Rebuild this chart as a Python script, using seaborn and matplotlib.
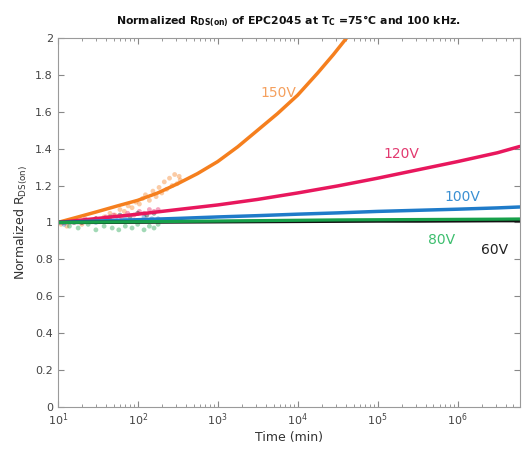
import numpy as np
import pandas as pd
import matplotlib
matplotlib.use('Agg')
import matplotlib.pyplot as plt
import seaborn as sns
from matplotlib.ticker import FormatStrFormatter, LogLocator

sns.set_style("ticks")
plt.rcParams['font.family'] = ['DejaVu Sans']

# fitted curves (time in min, normalized Rds(on))
t150 = [10, 18, 32, 56, 100, 178, 316, 560, 1000, 1780, 3160, 5600, 1e4,
        1.78e4, 2.8e4, 4.1e4, 6.3e4]
fit_150 = [1.0, 1.03, 1.06, 1.09, 1.12, 1.16, 1.21, 1.265, 1.33, 1.41, 1.50,
           1.59, 1.69, 1.81, 1.91, 2.0, 2.11]

fit_t = [10, 31.6, 100, 316, 1000, 3160, 1e4, 3.16e4, 1e5, 3.16e5, 1e6,
         3.16e6, 6e6]
fit_120 = [1.0, 1.022, 1.045, 1.07, 1.095, 1.125, 1.16, 1.198, 1.24, 1.285,
           1.33, 1.378, 1.412]
fit_100 = [1.0, 1.008, 1.015, 1.022, 1.03, 1.037, 1.045, 1.052, 1.06, 1.066,
           1.072, 1.079, 1.084]
fit_80 = [1.0, 1.002, 1.004, 1.006, 1.008, 1.01, 1.012, 1.014, 1.015, 1.016,
          1.017, 1.018, 1.019]
fit_60 = [1.0, 1.001, 1.002, 1.003, 1.004, 1.005, 1.006, 1.007, 1.008, 1.008,
          1.009, 1.01, 1.01]

# raw measurement clouds
raw150_t = [11, 13, 16, 20, 25, 30, 38, 45, 52, 60, 68, 76, 85, 95, 105, 115,
            125, 140, 155, 170, 185, 200, 215, 230, 250, 270, 290, 310, 330, 340]
raw150_v = [0.99, 0.98, 1.00, 0.99, 1.01, 1.02, 1.03, 1.05, 1.04, 1.07, 1.06,
            1.09, 1.08, 1.11, 1.10, 1.13, 1.15, 1.12, 1.17, 1.14, 1.19, 1.16,
            1.22, 1.18, 1.24, 1.20, 1.26, 1.21, 1.25, 1.23]
raw120_t = [12, 16, 22, 30, 40, 50, 62, 75, 90, 105, 120, 140, 160, 180]
raw120_v = [1.0, 1.01, 1.02, 1.02, 1.03, 1.04, 1.03, 1.05, 1.04, 1.06, 1.05,
            1.07, 1.06, 1.07]
raw100_t = [12, 16, 22, 30, 40, 55, 70, 90, 120, 150, 180]
raw100_v = [0.99, 1.0, 1.01, 1.0, 1.02, 1.01, 1.02, 1.01, 1.03, 1.02, 1.02]
raw80_t = [14, 18, 24, 30, 38, 48, 58, 70, 85, 100, 120, 140, 160, 180]
raw80_v = [0.98, 0.97, 0.99, 0.96, 0.98, 0.97, 0.96, 0.98, 0.97, 0.99, 0.96,
           0.98, 0.97, 0.99]
raw60_t = [20, 30, 45, 60, 80, 100, 130, 160]
raw60_v = [1.0, 1.02, 1.03, 1.04, 1.03, 1.05, 1.04, 1.05]

voltages = ['150V', '120V', '100V', '80V', '60V']
line_colors = ['#F57F1E', '#E8175D', '#1F7BC9', '#17A04A', '#111111']
text_colors = ['#F5A05E', '#E23A70', '#3A90D3', '#3DBE6E', '#222222']
label_t = [5700, 2.0e5, 1.15e6, 6.3e5, 2.9e6]
label_v = [1.70, 1.37, 1.14, 0.905, 0.85]

raws = [(raw150_t, raw150_v), (raw120_t, raw120_v), (raw100_t, raw100_v),
        (raw80_t, raw80_v), (raw60_t, raw60_v)]

fig = plt.figure(figsize=(5.25, 4.5), dpi=100)
ax = fig.add_axes([0.110, 0.0956, 0.880, 0.82])

# scatter clouds first
for (rt, rv), c in zip(raws, line_colors):
    df_raw = pd.DataFrame({'t': rt, 'v': rv})
    sns.scatterplot(data=df_raw, x='t', y='v', ax=ax, color=c, s=12,
                    alpha=0.4, edgecolor='none', legend=False)

# fitted lines
sns.lineplot(x=t150, y=fit_150, ax=ax, color=line_colors[0], linewidth=2.5)
sns.lineplot(x=fit_t, y=fit_120, ax=ax, color=line_colors[1], linewidth=2.5)
sns.lineplot(x=fit_t, y=fit_100, ax=ax, color=line_colors[2], linewidth=2.5)
sns.lineplot(x=fit_t, y=fit_60, ax=ax, color=line_colors[4], linewidth=2.5)
sns.lineplot(x=fit_t, y=fit_80, ax=ax, color=line_colors[3], linewidth=2.3)

for name, c, tx, ty in zip(voltages, text_colors, label_t, label_v):
    ax.text(tx, ty, name, color=c, fontsize=10, ha='center', va='center')

ax.set_xscale('log')
ax.set_xlim(10, 6e6)
ax.set_ylim(0, 2)
ax.set_yticks(np.arange(0, 2.01, 0.2))
ax.yaxis.set_major_formatter(FormatStrFormatter('%g'))
ax.xaxis.set_major_locator(LogLocator(base=10, numticks=10))
ax.xaxis.set_minor_locator(LogLocator(base=10, subs=np.arange(2, 10), numticks=10))

ax.tick_params(which='both', direction='in', top=True, right=True,
               colors='#888888', labelcolor='#444444', labelsize=8)
ax.tick_params(which='major', length=4)
ax.tick_params(which='minor', length=2)
for sp in ax.spines.values():
    sp.set_color('#9a9a9a')
    sp.set_linewidth(0.8)

ax.set_xlabel('Time (min)', fontsize=9, color='#333333', labelpad=2)
ax.set_ylabel(r'Normalized R$_{\mathregular{DS(on)}}$', fontsize=9,
              color='#333333', labelpad=4)
ax.set_title(r'Normalized R$_{\bf DS(on)}$ of EPC2045 at T$_{\bf C}$ =75°C and 100 kHz.',
             fontsize=7.8, fontweight='bold', color='#111111', pad=10)

plt.savefig('out.png', dpi=100)
plt.close()
